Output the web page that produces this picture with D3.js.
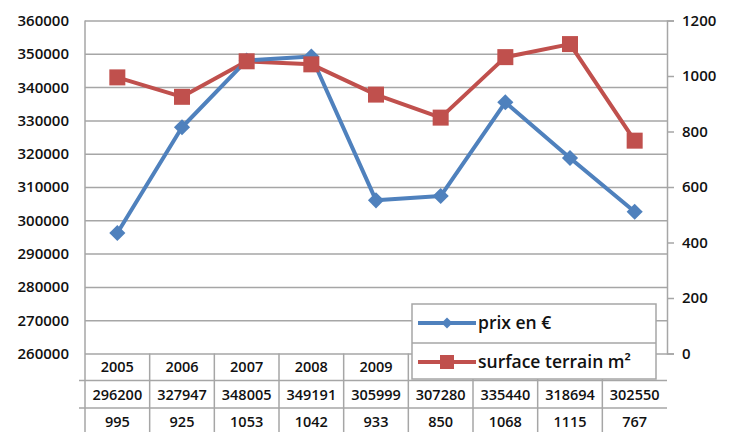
<!DOCTYPE html>
<html>
<head>
<meta charset="utf-8">
<script src="https://cdn.jsdelivr.net/npm/d3@7"></script>
<style>
body { margin: 0; background: #fff; }
svg { font-family: "Open Sans", sans-serif; }
.grid line { stroke: #a6a6a6; stroke-width: 1.5; }
.grid path { display: none; }
.lbl { fill: #111; font-weight: 600; }
</style>
</head>
<body>
<svg width="734" height="432"></svg>
<script>
var years = [ "2005", "2006", "2007", "2008", "2009", "2010", "2011", "2012", "2013" ];
var prix = [ 296200, 327947, 348005, 349191, 305999, 307280, 335440, 318694, 302550 ];
var surface = [ 995, 925, 1053, 1042, 933, 850, 1068, 1115, 767 ];
var leftTicks = [ 260000, 270000, 280000, 290000, 300000, 310000, 320000, 330000, 340000, 350000, 360000 ];
var rightTicks = [ 0, 200, 400, 600, 800, 1000, 1200 ];
var series = [ "prix en €", "surface terrain m²" ];
var colors = [ "#4f81bd", "#c0504d" ];

var svg = d3.select("svg");
var pLeft = 85, pRight = 667, pTop = 20.5, pBottom = 353.5;

var xScale = d3.scaleBand().domain(years).range([ pLeft, pRight ]);
var yLeft = d3.scaleLinear().domain([ 260000, 360000 ]).range([ pBottom, pTop ]);
var yRight = d3.scaleLinear().domain([ 0, 1200 ]).range([ pBottom, pTop ]);

// gridlines
svg.append("g").attr("class", "grid").attr("transform", "translate(" + pLeft + ",0)")
		.call(d3.axisLeft(yLeft).tickValues(leftTicks).tickSize(-(pRight - pLeft)).tickFormat(""));

// left labels
svg.append("g").selectAll("text").data(leftTicks).enter().append("text")
		.attr("class", "lbl").attr("x", 69).attr("y", function(d) {
			return yLeft(d);
		}).attr("dy", "0.36em").attr("text-anchor", "end")
		.style("font-size", "15px").text(function(d) {
			return d;
		});

// right axis
var rAxis = svg.append("g").attr("transform", "translate(" + pRight + ",0)")
		.call(d3.axisRight(yRight).tickValues(rightTicks).tickSize(7).tickPadding(8)
				.tickFormat(d3.format("d")));
rAxis.select(".domain").attr("stroke", "#a6a6a6").attr("stroke-width", 1.5);
rAxis.selectAll(".tick line").attr("stroke", "#a6a6a6").attr("stroke-width", 1.5);
rAxis.selectAll(".tick text").attr("class", "lbl").style("font-size", "15px")
		.style("font-family", "'Open Sans', sans-serif").attr("fill", "#111");

// left border
svg.append("line").attr("x1", pLeft).attr("x2", pLeft).attr("y1", pTop).attr("y2", 432)
		.attr("stroke", "#a6a6a6").attr("stroke-width", 1.5);

// data table
var rowY = [ pBottom, 380.5, 408 ];
svg.append("g").selectAll("line").data(rowY.slice(1)).enter().append("line")
		.attr("x1", 79).attr("x2", pRight).attr("y1", function(d) {
			return d;
		}).attr("y2", function(d) {
			return d;
		}).attr("stroke", "#a6a6a6").attr("stroke-width", 1.5);
svg.append("g").selectAll("line").data(years.slice(1)).enter().append("line")
		.attr("x1", function(d) {
			return xScale(d);
		}).attr("x2", function(d) {
			return xScale(d);
		}).attr("y1", pBottom).attr("y2", 432).attr("stroke", "#a6a6a6").attr("stroke-width", 1.5);

var rows = [ years, prix, surface ];
var baseY = [ 372, 400, 427 ];
rows.forEach(function(r, i) {
	svg.append("g").selectAll("text").data(r).enter().append("text")
			.attr("class", "lbl").attr("x", function(d, j) {
				return xScale(years[j]) + xScale.bandwidth() / 2;
			}).attr("y", baseY[i]).attr("text-anchor", "middle")
			.style("font-size", "14.5px").text(function(d) {
				return d;
			});
});

// lines
var cx = function(d, i) {
	return xScale(years[i]) + xScale.bandwidth() / 2;
};
var linePrix = d3.line().x(cx).y(function(d) {
	return yLeft(d);
});
var lineSurf = d3.line().x(cx).y(function(d) {
	return yRight(d);
});
svg.append("path").datum(surface).attr("d", lineSurf).attr("fill", "none")
		.attr("stroke", colors[1]).attr("stroke-width", 4).attr("stroke-linejoin", "round");
svg.append("path").datum(prix).attr("d", linePrix).attr("fill", "none")
		.attr("stroke", colors[0]).attr("stroke-width", 4).attr("stroke-linejoin", "round");

var diamond = d3.symbol().type(d3.symbolSquare).size(130);
svg.append("g").selectAll("path").data(prix).enter().append("path")
		.attr("d", diamond).attr("fill", colors[0]).attr("transform", function(d, i) {
			return "translate(" + cx(d, i) + "," + yLeft(d) + ") rotate(45)";
		});
svg.append("g").selectAll("rect").data(surface).enter().append("rect")
		.attr("x", function(d, i) {
			return cx(d, i) - 8;
		}).attr("y", function(d) {
			return yRight(d) - 8;
		}).attr("width", 16).attr("height", 16).attr("fill", colors[1]);

// legend
var lg = svg.append("g");
lg.append("rect").attr("x", 412).attr("y", 304).attr("width", 244).attr("height", 75)
		.attr("fill", "#fff").attr("stroke", "#a6a6a6").attr("stroke-width", 1.5);
lg.append("line").attr("x1", 412).attr("x2", 656).attr("y1", 343).attr("y2", 343)
		.attr("stroke", "#a6a6a6").attr("stroke-width", 1.5);
var item = lg.selectAll("g").data(series).enter().append("g").attr("transform", function(d, i) {
	return "translate(0," + (323 + i * 39) + ")";
});
item.append("line").attr("x1", 418).attr("x2", 476).attr("y1", 0).attr("y2", 0)
		.attr("stroke", function(d, i) {
			return colors[i];
		}).attr("stroke-width", 4);
item.filter(function(d, i) {
	return i == 0;
}).append("path").attr("d", d3.symbol().type(d3.symbolSquare).size(60))
		.attr("transform", "translate(447,0) rotate(45)").attr("fill", colors[0]);
item.filter(function(d, i) {
	return i == 1;
}).append("rect").attr("x", 440).attr("y", -7).attr("width", 14).attr("height", 14)
		.attr("fill", colors[1]);
item.append("text").attr("class", "lbl").attr("x", 478).attr("dy", "0.35em")
		.style("font-size", "17.5px").text(function(d) {
			return d;
		});
</script>
</body>
</html>
